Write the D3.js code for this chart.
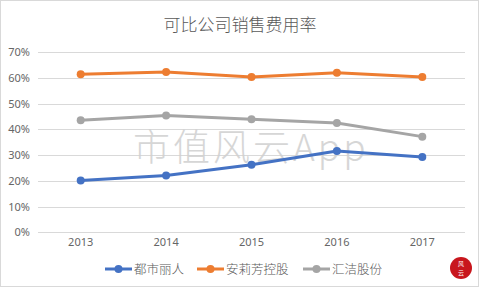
<!DOCTYPE html>
<html>
<head>
<meta charset="utf-8">
<script src="https://cdn.jsdelivr.net/npm/d3@7"></script>
<style>
  body { margin: 0; background: #fff; }
  text { font-family: "Noto Sans CJK SC", "Noto Sans", sans-serif; }
</style>
</head>
<body>
<svg id="chart" width="481" height="289"></svg>
<script>
const years = ["2013", "2014", "2015", "2016", "2017"];
const seriesNames = ["都市丽人", "安莉芳控股", "汇洁股份"];
const colors = ["#4472C4", "#ED7D31", "#A5A5A5"];
const dushi = [20.1, 22.1, 26.3, 31.6, 29.3];
const anlifang = [61.5, 62.3, 60.4, 62.0, 60.4];
const huijie = [43.6, 45.4, 44.0, 42.5, 37.2];
const yTicks = [0, 10, 20, 30, 40, 50, 60, 70];

const series = [dushi, anlifang, huijie].map((vals, i) => ({
  name: seriesNames[i], color: colors[i],
  values: vals.map((v, j) => ({year: years[j], v}))
}));

const svg = d3.select("#chart");

svg.append("rect")
  .attr("x", 0.5).attr("y", 0.5)
  .attr("width", 478).attr("height", 286)
  .attr("fill", "#fff").attr("stroke", "#D9D9D9");

svg.append("text")
  .attr("x", 240).attr("y", 31)
  .attr("text-anchor", "middle")
  .attr("font-size", 17)
  .attr("fill", "#595959")
  .style("font-weight", 300)
  .text("可比公司销售费用率");

const x = d3.scaleBand().domain(years).range([38, 465]);
const y = d3.scaleLinear().domain([0, 70]).range([232.3, 52.3]);

// gridlines
svg.append("g")
  .selectAll("line")
  .data(yTicks)
  .join("line")
  .attr("x1", 38).attr("x2", 465)
  .attr("y1", d => Math.round(y(d)) + 0.5)
  .attr("y2", d => Math.round(y(d)) + 0.5)
  .attr("stroke", "#D9D9D9");

const yAxis = svg.append("g")
  .attr("transform", "translate(30,0)")
  .call(d3.axisLeft(y).tickValues(yTicks).tickSize(0).tickPadding(0).tickFormat(d => d + "%"));
yAxis.select(".domain").remove();
yAxis.selectAll("text").attr("font-size", 11).attr("fill", "#666")
  .style("font-family", "'Noto Sans', sans-serif");

const xAxis = svg.append("g")
  .attr("transform", "translate(0,238)")
  .call(d3.axisBottom(x).tickSize(0).tickPadding(0));
xAxis.select(".domain").remove();
xAxis.selectAll("text").attr("font-size", 11).attr("fill", "#666")
  .style("font-family", "'Noto Sans', sans-serif");

// watermark
svg.append("text")
  .attr("x", 133).attr("y", 161)
  .attr("font-size", 37)
  .attr("fill", "#D0D0D0")
  .attr("opacity", 0.85)
  .attr("letter-spacing", 3)
  .style("font-weight", 300)
  .text("市值风云App");

const line = d3.line()
  .x(d => x(d.year) + x.bandwidth() / 2)
  .y(d => y(d.v));

const sg = svg.append("g").selectAll("g").data(series).join("g");
sg.append("path")
  .attr("d", d => line(d.values))
  .attr("fill", "none")
  .attr("stroke", d => d.color)
  .attr("stroke-width", 3)
  .attr("stroke-linejoin", "round");
sg.selectAll("circle")
  .data(d => d.values.map(p => ({...p, color: d.color})))
  .join("circle")
  .attr("cx", d => x(d.year) + x.bandwidth() / 2)
  .attr("cy", d => y(d.v))
  .attr("r", 4)
  .attr("fill", d => d.color);

// legend
const legendX = [105, 197, 303];
const lg = svg.append("g").selectAll("g").data(series).join("g")
  .attr("transform", (d, i) => `translate(${legendX[i]},269)`);
lg.append("line")
  .attr("x1", 0).attr("x2", 27)
  .attr("stroke", d => d.color).attr("stroke-width", 3);
lg.append("circle")
  .attr("cx", 13.5).attr("r", 4).attr("fill", d => d.color);
lg.append("text")
  .attr("x", 29).attr("y", 4.5)
  .attr("font-size", 12.5)
  .attr("fill", "#595959")
  .style("font-weight", 300)
  .text(d => d.name);

// seal
svg.append("circle")
  .attr("cx", 461).attr("cy", 268).attr("r", 11)
  .attr("fill", "#C8161D");
svg.append("text")
  .attr("x", 461).attr("y", 266)
  .attr("text-anchor", "middle")
  .attr("font-size", 6)
  .attr("fill", "#fff")
  .text("风");
svg.append("text")
  .attr("x", 461).attr("y", 275)
  .attr("text-anchor", "middle")
  .attr("font-size", 6)
  .attr("fill", "#fff")
  .text("云");
</script>
</body>
</html>
